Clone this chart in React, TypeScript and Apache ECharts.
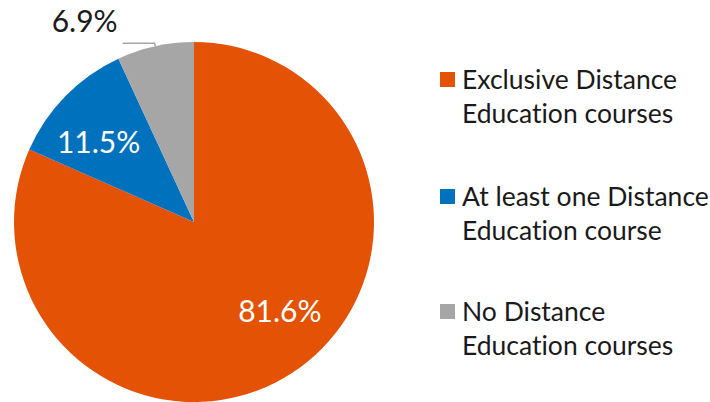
import React, { useEffect, useRef } from "react";
import * as echarts from "echarts";

const categories = [
  "Exclusive Distance\nEducation courses",
  "At least one Distance\nEducation course",
  "No Distance\nEducation courses",
];
const values = [81.6, 11.5, 6.9];
const colors = ["#E35205", "#0071BC", "#A6A6A6"];

const FONT = "Lato, 'Noto Sans', sans-serif";

export default function App() {
  const ref = useRef<HTMLDivElement>(null);
  useEffect(() => {
    if (!ref.current) return;
    const chart = echarts.init(ref.current, null, { renderer: "svg" });
    const legendTops = [72, 189, 304];
    const graphic: any[] = [];
    categories.forEach((c, i) => {
      graphic.push({
        type: "rect",
        shape: { x: 440, y: legendTops[i], width: 15, height: 15 },
        style: { fill: colors[i] },
      });
      graphic.push({
        type: "text",
        x: 462,
        y: legendTops[i] - 10,
        style: {
          text: c,
          fill: "#1a1a1a",
          fontFamily: FONT,
          fontSize: 26.5,
          lineHeight: 34,
          verticalAlign: "top",
          align: "left",
        },
      });
    });
    const offsets = [
      [35, 10],
      [-29, -16],
      [0, 0],
    ];
    chart.setOption({
      animation: false,
      backgroundColor: "#ffffff",
      graphic,
      series: [
        {
          type: "pie",
          center: [194, 222],
          radius: 180,
          startAngle: 90,
          clockwise: true,
          avoidLabelOverlap: false,
          data: values.map((v, i) => ({
            name: categories[i],
            value: v,
            itemStyle: { color: colors[i] },
            label:
              i < 2
                ? {
                    show: true,
                    position: "inside",
                    offset: offsets[i],
                    color: "#ffffff",
                  }
                : {
                    show: true,
                    position: "outside",
                    color: "#1a1a1a",
                    formatter: (p: any) =>
                      "{a|" + p.value.toFixed(1) + "%}\n{b| }",
                    rich: {
                      a: {
                        fontFamily: FONT,
                        fontSize: 30,
                        lineHeight: 36,
                        color: "#1a1a1a",
                      },
                      b: { fontSize: 10, lineHeight: 46 },
                    },
                  },
            labelLine:
              i < 2
                ? { show: false }
                : {
                    show: true,
                    length: 3,
                    length2: 32,
                    smooth: false,
                    lineStyle: { color: "#A6A6A6", width: 1.5 },
                  },
          })),
          label: {
            formatter: (p: any) => p.value.toFixed(1) + "%",
            fontFamily: FONT,
            fontSize: 30,
          },
          itemStyle: { borderWidth: 0 },
          emphasis: { disabled: true },
        },
      ],
    });
    return () => chart.dispose();
  }, []);
  return (
    <>
      <style>{"svg text { font-variant-ligatures: none; }"}</style>
      <div
        ref={ref}
        style={{ position: "fixed", left: 0, top: 0, width: 710, height: 402 }}
      />
    </>
  );
}
